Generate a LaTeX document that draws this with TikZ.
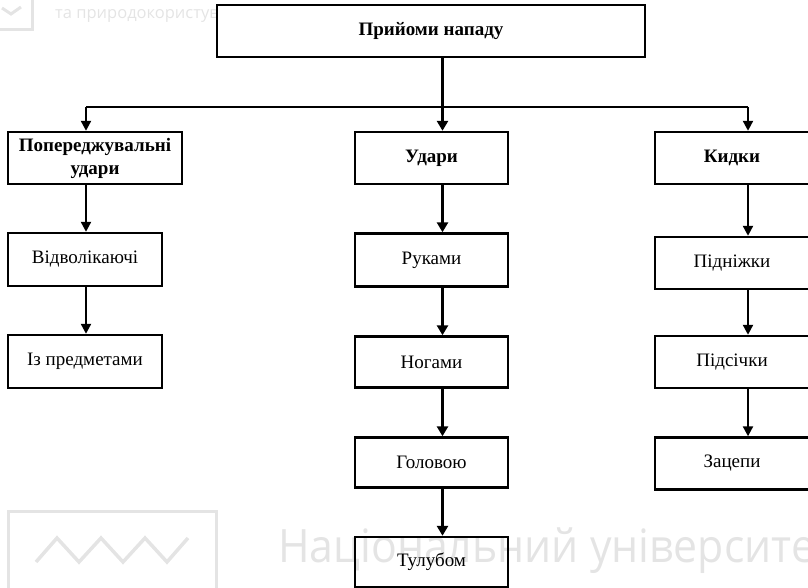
\documentclass[tikz,border=0pt]{standalone}
\usepackage{fontspec}
\setmainfont{Liberation Serif}
\newfontfamily\wmfont[FakeStretch=0.93]{Open Sans}
\newfontfamily\wmsmall{Open Sans}
\usetikzlibrary{arrows.meta}
\definecolor{wm}{HTML}{E4E4E4}
\tikzset{
  box/.style={draw=black, line width=2.4pt, rectangle, inner sep=0pt, align=center, font=\fontsize{19}{23}\selectfont},
  hbox/.style={box, font=\bfseries\fontsize{19}{23}\selectfont},
  conn/.style={line width=2.2pt, -{Triangle[length=10pt,width=10pt]}},
  thick conn/.style={line width=3.6pt, -{Triangle[length=10pt,width=11pt]}},
  wmline/.style={draw=wm, line width=3pt, line join=miter}
}
\begin{document}
\begin{tikzpicture}[x=1pt,y=-1pt]
\useasboundingbox (0,0) rectangle (808,588);
% watermark
\draw[wmline] (-5,-5) rectangle (32,30);
\draw[wmline] (2,8) -- (11,14) -- (21,7);
\node[anchor=base west, text=wm, inner sep=0pt, font=\wmsmall\fontsize{16.5}{16.5}\selectfont] (wmtop) at (55,19) {та природокористування};
\draw[wmline] (8,600) -- (8,511) -- (216,511) -- (216,600);
\draw[wmline, line width=3.5pt] (36,562) -- (57,538) -- (79,562) -- (101,538) -- (123,562) -- (145,538) -- (167,562) -- (188,538);
\node[anchor=base west, text=wm, inner sep=0pt, font=\wmfont\fontsize{46}{46}\selectfont] (wmbig) at (278,562) {Національний університет};
% top
\node[hbox, fill=white, minimum width=428pt, minimum height=52pt] (top) at (431,31) {Прийоми нападу};
% level 1
\node[hbox, minimum width=174pt, minimum height=52pt] (pop) at (95,158) {Попереджувальні\\удари};
\node[hbox, minimum width=153pt, minimum height=52pt] (ud) at (431.5,158) {Удари};
\node[hbox, minimum width=154pt, minimum height=52pt] (kyd) at (732,158) {Кидки};
% left column
\node[box, minimum width=154pt, minimum height=53pt] (vid) at (85,259.5) {Відволікаючі};
\node[box, minimum width=154pt, minimum height=53pt] (izp) at (85,361.5) {Із предметами};
% middle column
\node[box, minimum width=153pt, minimum height=53pt] (ruk) at (431.5,260) {Руками};
\node[box, minimum width=153pt, minimum height=51pt] (nog) at (431.5,362) {Ногами};
\node[box, minimum width=153pt, minimum height=50pt] (hol) at (431.5,462.5) {Головою};
\node[box, minimum width=153pt, minimum height=50pt] (tul) at (431.5,562) {Тулубом};
% right column
\node[box, minimum width=154pt, minimum height=52pt] (pidn) at (732,263) {Підніжки};
\node[box, minimum width=154pt, minimum height=52pt] (pids) at (732,362) {Підсічки};
\node[box, minimum width=154pt, minimum height=52pt] (zac) at (732,463.5) {Зацепи};
% column lines
\coordinate (lx) at (86,0);
\coordinate (mx) at (442.5,0);
\coordinate (rx) at (748,0);
\coordinate (hy) at (0,107);
% connectors from top
\draw[thick conn] (top.south -| mx) -- (ud.north -| mx);
\draw[line width=2.8pt] (hy -| lx) -- (hy -| rx);
\draw[conn] (hy -| lx) -- (pop.north -| lx);
\draw[conn] (hy -| rx) -- (kyd.north -| rx);
% left column
\draw[conn] (pop.south -| lx) -- (vid.north -| lx);
\draw[conn] (vid.south -| lx) -- (izp.north -| lx);
% middle column
\draw[thick conn] (ud.south -| mx) -- (ruk.north -| mx);
\draw[thick conn] (ruk.south -| mx) -- (nog.north -| mx);
\draw[thick conn] (nog.south -| mx) -- (hol.north -| mx);
\draw[thick conn] (hol.south -| mx) -- (tul.north -| mx);
% right column
\draw[conn] (kyd.south -| rx) -- (pidn.north -| rx);
\draw[conn] (pidn.south -| rx) -- (pids.north -| rx);
\draw[conn] (pids.south -| rx) -- (zac.north -| rx);
\end{tikzpicture}
\end{document}
